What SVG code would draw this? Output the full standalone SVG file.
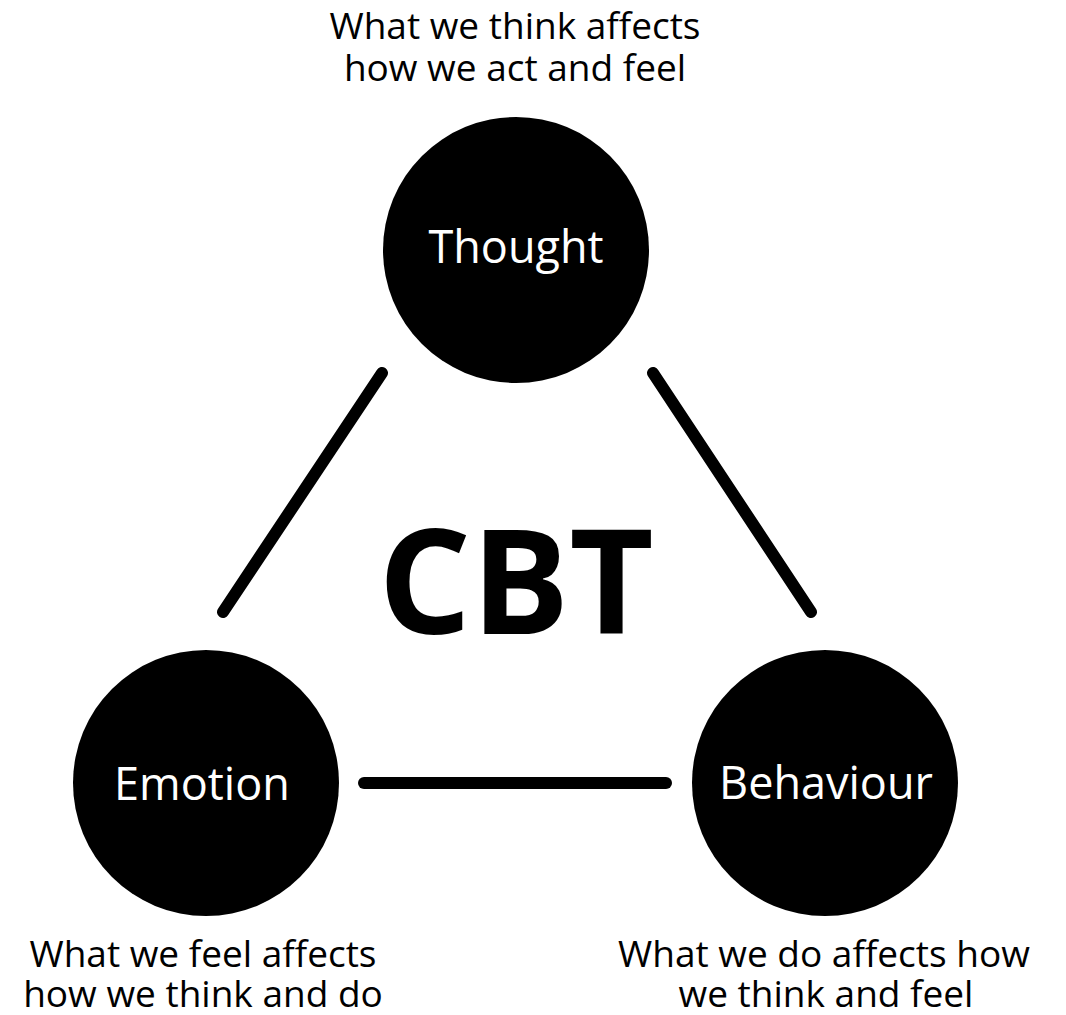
<svg xmlns="http://www.w3.org/2000/svg" width="1066" height="1015" viewBox="0 0 1066 1015">
<style>
.node{fill:#000}
.lbl{font-family:"Open Sans","Noto Sans",sans-serif;fill:#fff;font-size:45px;text-anchor:middle}
.cap{font-family:"Open Sans","Noto Sans",sans-serif;fill:#000;font-size:37px;text-anchor:middle}
.title{font-family:"Open Sans","Noto Sans",sans-serif;fill:#000;font-size:146px;font-weight:700;text-anchor:middle}
.edge{stroke:#000;stroke-width:12;stroke-linecap:round;fill:none}
</style>
<rect width="1066" height="1015" fill="#fff"/>
<g id="connectors">
<line class="edge" x1="382" y1="373" x2="223" y2="612"/>
<line class="edge" x1="653" y1="373" x2="811" y2="612"/>
<line class="edge" x1="364" y1="783" x2="666" y2="783"/>
</g>
<g id="thought">
<circle class="node" cx="516" cy="250" r="133"/>
<text class="lbl" x="516" y="263">Thought</text>
<text class="cap" x="515" y="39">What we think affects</text>
<text class="cap" x="515" y="81">how we act and feel</text>
</g>
<g id="emotion">
<circle class="node" cx="206" cy="783" r="133"/>
<text class="lbl" x="202" y="800">Emotion</text>
<text class="cap" x="203" y="967">What we feel affects</text>
<text class="cap" x="203" y="1007">how we think and do</text>
</g>
<g id="behaviour">
<circle class="node" cx="825" cy="783" r="133"/>
<text class="lbl" x="826" y="799">Behaviour</text>
<text class="cap" x="824" y="967">What we do affects how</text>
<text class="cap" x="826" y="1007">we think and feel</text>
</g>
<g id="cbt">
<text class="title" x="516" y="634">CBT</text>
</g>
</svg>
